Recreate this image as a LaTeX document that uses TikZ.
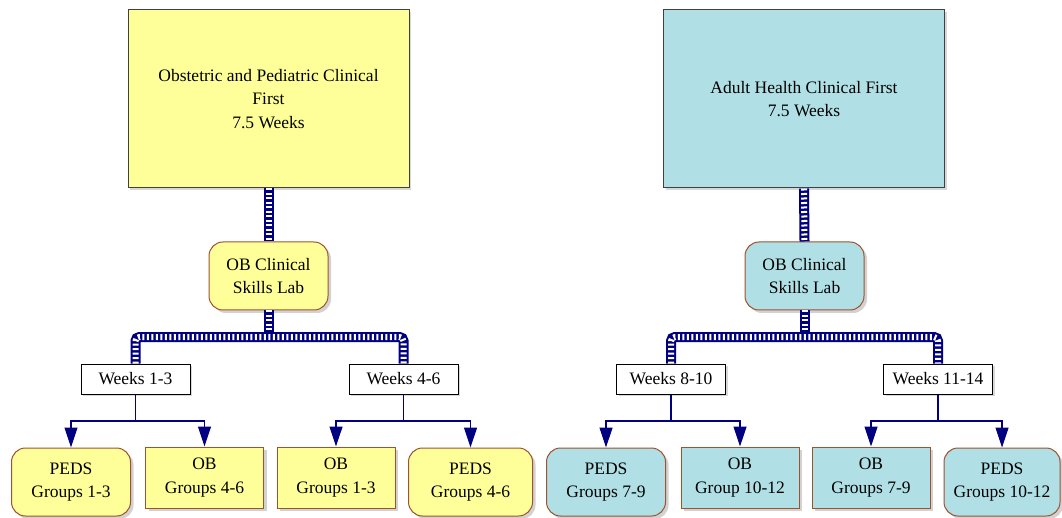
\documentclass[tikz,border=0pt]{standalone}
\usepackage{fontspec}
\setmainfont{Liberation Serif}
\usetikzlibrary{arrows.meta,shadows}
\definecolor{obyellow}{HTML}{FFFF99}
\definecolor{ahcyan}{HTML}{B0E0E6}
\definecolor{rim}{HTML}{A0522D}
\definecolor{bar}{HTML}{000080}

\begin{document}
\begin{tikzpicture}[
									x = 1pt,
									y = -1pt,
									every node/.style = {
										font = \fontsize{17.5}{23.5}\selectfont,
										align = center,
										inner sep = 0
									},
									headbox/.style = {
										draw = black!75,
										line width = 1pt,
										fill = #1,
										minimum width = 281pt,
										minimum height = 178pt,
										drop shadow = {shadow xshift = 2pt, shadow yshift = -2pt, fill = black!30}
									},
									labbox/.style = {
										draw = rim,
										line width = 1pt,
										rounded corners = 14pt,
										fill = #1,
										minimum width = 119pt,
										minimum height = 68pt,
										drop shadow = {shadow xshift = 3pt, shadow yshift = -3pt, fill = black!35}
									},
									weekbox/.style = {
										draw = black,
										line width = 1pt,
										fill = white,
										minimum width = 109pt,
										minimum height = 30pt,
										drop shadow = {shadow xshift = 2pt, shadow yshift = -2pt, fill = black!30}
									},
									obbox/.style = {
										draw = rim,
										line width = 1pt,
										fill = #1,
										minimum width = 118pt,
										minimum height = 61pt,
										drop shadow = {shadow xshift = 3pt, shadow yshift = -3pt, fill = black!35}
									},
									pedsbox/.style = {
										draw = rim,
										line width = 1pt,
										rounded corners = 14pt,
										fill = #1,
										minimum width = 119pt,
										minimum height = 68pt,
										drop shadow = {shadow xshift = 3pt, shadow yshift = -3pt, fill = black!35}
									},
									hatch/.style = {
										draw = bar,
										line width = 10pt,
										rounded corners = 4pt,
										postaction = {draw = white, line width = 6pt, dash pattern = on 2pt off 2.5pt}
									},
									link/.style = {
										draw = bar,
										line width = 1.2pt,
										-{Triangle[length = 20pt, width = 13pt]}
									}
								]
							\useasboundingbox (0, 0) rectangle (1062, 518);

							\node [headbox = obyellow] (obfirst) at (268.5, 99) {Obstetric and Pediatric Clinical\\First\\7.5 Weeks};
							\node [headbox = ahcyan] (ahfirst) at (804, 99) {Adult Health Clinical First\\7.5 Weeks};

							\node [labbox = obyellow] (lab1) at (268.5, 276) {OB Clinical\\Skills Lab};
							\node [labbox = ahcyan] (lab2) at (804.5, 276) {OB Clinical\\Skills Lab};

							\node [weekbox] (wk1) at (135.5, 379) {Weeks 1-3};
							\node [weekbox] (wk2) at (403.5, 379) {Weeks 4-6};
							\node [weekbox] (wk3) at (671, 379) {Weeks 8-10};
							\node [weekbox] (wk4) at (938, 379) {Weeks 11-14};

							\node [pedsbox = obyellow] (g1) at (71, 482) {PEDS\\Groups 1-3};
							\node [obbox = obyellow] (g2) at (204.5, 477.5) {OB\\Groups 4-6};
							\node [obbox = obyellow] (g3) at (336, 477.5) {OB\\Groups 1-3};
							\node [pedsbox = obyellow, minimum width = 124pt] (g4) at (470.5, 482) {PEDS\\Groups 4-6};
							\node [pedsbox = ahcyan] (g5) at (606, 482) {PEDS\\Groups 7-9};
							\node [obbox = ahcyan] (g6) at (740, 477.5) {OB\\Group 10-12};
							\node [obbox = ahcyan] (g7) at (871, 477.5) {OB\\Groups 7-9};
							\node [pedsbox = ahcyan, minimum width = 116pt] (g8) at (1002, 482) {PEDS\\Groups 10-12};

							\coordinate (j1) at (268.5, 337);
							\coordinate (j2) at (804.5, 337);
							\coordinate (b1) at (135.5, 421);
							\coordinate (b2) at (403.5, 421);
							\coordinate (b3) at (671, 421);
							\coordinate (b4) at (938, 421);

							\draw [hatch] (obfirst.south) -- (lab1.north);
							\draw [hatch] (ahfirst.south) -- (lab2.north);
							\draw [hatch] (lab1.south) -- (j1);
							\draw [hatch] (lab2.south) -- (j2);
							\draw [hatch] (wk1.north) |- (j1) -| (wk2.north);
							\draw [hatch] (wk3.north) |- (j2) -| (wk4.north);

							\draw [-, draw = bar, line width = 1.2pt] (wk1.south) -- (b1);
							\draw [-, draw = bar, line width = 1.2pt] (wk2.south) -- (b2);
							\draw [-, draw = bar, line width = 1.2pt] (wk3.south) -- (b3);
							\draw [-, draw = bar, line width = 1.2pt] (wk4.south) -- (b4);

							\draw [link] (b1) -| (g1.north);
							\draw [link] (b1) -| (g2.north);
							\draw [link] (b2) -| (g3.north);
							\draw [link] (b2) -| (g4.north);
							\draw [link] (b3) -| (g5.north);
							\draw [link] (b3) -| (g6.north);
							\draw [link] (b4) -| (g7.north);
							\draw [link] (b4) -| (g8.north);
						\end{tikzpicture}
\end{document}
